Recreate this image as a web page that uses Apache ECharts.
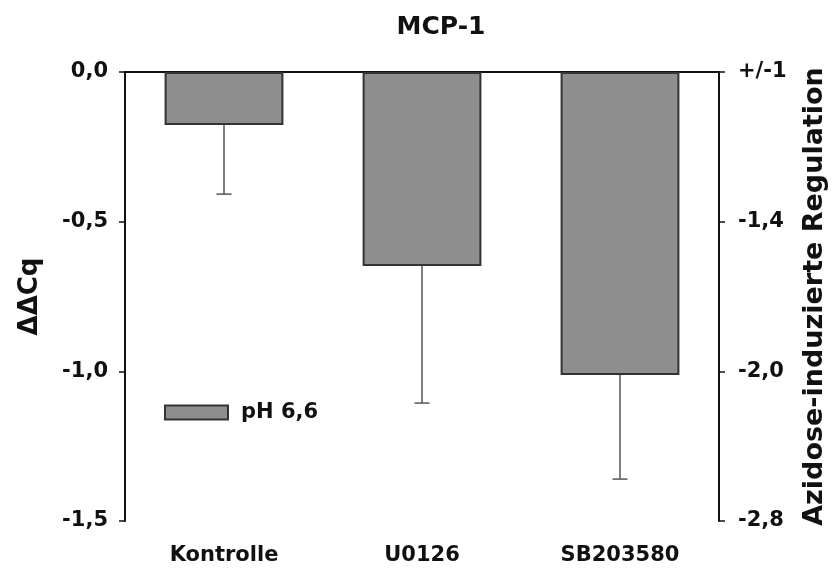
<!DOCTYPE html>
<html>
<head>
<meta charset="utf-8">
<script src="https://cdn.jsdelivr.net/npm/echarts@6/dist/echarts.min.js"></script>
<style>
  html, body { margin: 0; padding: 0; background: #fff; }
  #chart { width: 833px; height: 570px; }
</style>
</head>
<body>
<div id="chart"></div>
<script>
// Daten
var categories = ['Kontrolle', 'U0126', 'SB203580'];
var ddcq = [-0.177, -0.648, -1.012];
var errLow = [-0.408, -1.106, -1.36];
var leftTicks = [0, -0.5, -1.0, -1.5];
var rightTicks = ['+/-1', '-1,4', '-2,0', '-2,8'];

var font = '"DejaVu Sans", sans-serif';
var chart = echarts.init(document.getElementById('chart'));

var errData = categories.map(function (c, i) {
  return [i, ddcq[i], errLow[i]];
});

chart.setOption({
  animation: false,
  backgroundColor: '#fff',
  textStyle: { fontFamily: font },
  title: {
    text: 'MCP-1',
    left: 436,
    textAlign: 'center',
    top: 10,
    textStyle: { fontFamily: font, fontWeight: 'bold', fontSize: 25, color: '#111' }
  },
  legend: {
    data: [{ name: 'pH 6,6', icon: 'rect' }],
    left: 164,
    top: 402,
    padding: 0,
    itemWidth: 63,
    itemHeight: 14,
    textStyle: { fontFamily: font, fontWeight: 'bold', fontSize: 21, color: '#111', padding: [0, 0, 0, 8] }
  },
  grid: { left: 125, right: 114, top: 72, bottom: 49, outerBoundsMode: 'none' },
  xAxis: [
    {
      type: 'category',
      data: categories,
      position: 'top',
      axisLine: { show: true, onZero: false, lineStyle: { color: '#111', width: 2 } },
      axisTick: { show: false },
      axisLabel: { show: false }
    },
    {
      type: 'category',
      data: categories,
      position: 'bottom',
      offset: 2,
      axisLine: { show: false },
      axisTick: { show: true, alignWithLabel: true, length: 6, lineStyle: { color: '#999', width: 1.5 } },
      axisLabel: { margin: 22, fontFamily: font, fontWeight: 'bold', fontSize: 21, color: '#111' }
    }
  ],
  yAxis: [
    {
      type: 'value',
      min: -1.5,
      max: 0,
      interval: 0.5,
      position: 'left',
      name: 'ΔΔCq',
      nameLocation: 'middle',
      nameRotate: 90,
      nameGap: 82,
      nameTextStyle: { fontFamily: font, fontWeight: 'bold', fontSize: 26, color: '#111' },
      axisLine: { show: true, onZero: false, lineStyle: { color: '#111', width: 2 } },
      axisTick: { show: true, length: 6, lineStyle: { color: '#111', width: 1.5 } },
      splitLine: { show: false },
      axisLabel: {
        margin: 17,
        fontFamily: font, fontWeight: 'bold', fontSize: 21, color: '#111',
        formatter: function (v) { return v.toFixed(1).replace('.', ','); }
      }
    },
    {
      type: 'value',
      min: -1.5,
      max: 0,
      interval: 0.5,
      position: 'right',
      name: 'Azidose-induzierte Regulation',
      nameLocation: 'middle',
      nameRotate: 90,
      nameGap: 82,
      nameTextStyle: { fontFamily: font, fontWeight: 'bold', fontSize: 27, color: '#111' },
      axisLine: { show: true, onZero: false, lineStyle: { color: '#111', width: 2 } },
      axisTick: { show: true, length: 6, lineStyle: { color: '#111', width: 1.5 } },
      splitLine: { show: false },
      axisLabel: {
        margin: 19,
        fontFamily: font, fontWeight: 'bold', fontSize: 21, color: '#111',
        formatter: function (v) {
          var i = leftTicks.findIndex(function (t) { return Math.abs(t - v) < 1e-6; });
          return i >= 0 ? rightTicks[i] : '';
        }
      }
    }
  ],
  series: [
    {
      name: 'pH 6,6',
      type: 'bar',
      xAxisIndex: 1,
      yAxisIndex: 0,
      data: ddcq,
      barWidth: '60%',
      itemStyle: { color: '#8e8e8e', borderColor: '#333', borderWidth: 2 }
    },
    {
      name: 'err',
      type: 'custom',
      xAxisIndex: 1,
      yAxisIndex: 0,
      data: errData,
      z: 3,
      renderItem: function (params, api) {
        var top = api.coord([api.value(0), api.value(1)]);
        var bot = api.coord([api.value(0), api.value(2)]);
        var hw = 7.5;
        var st = { stroke: '#555', lineWidth: 1.5 };
        return {
          type: 'group',
          children: [
            { type: 'line', shape: { x1: top[0], y1: top[1], x2: bot[0], y2: bot[1] }, style: st },
            { type: 'line', shape: { x1: bot[0] - hw, y1: bot[1], x2: bot[0] + hw, y2: bot[1] }, style: st }
          ]
        };
      }
    }
  ]
});
</script>
</body>
</html>
